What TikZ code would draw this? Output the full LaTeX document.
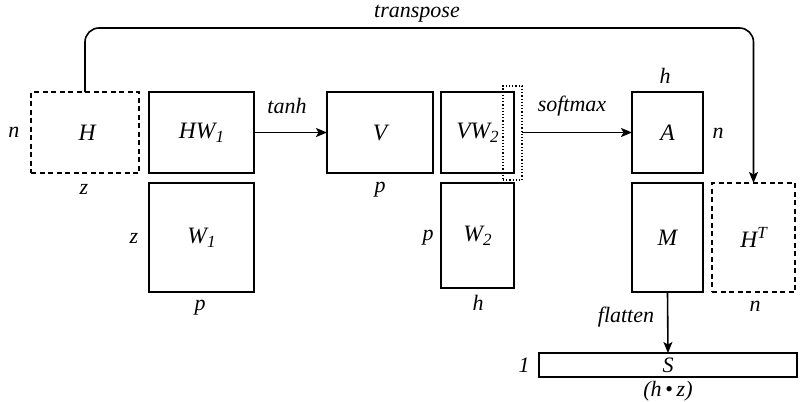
\documentclass[tikz,border=0pt]{standalone}
\usepackage{fontspec}
\setmainfont{Liberation Serif}
\usetikzlibrary{arrows.meta}
\newcommand{\mysub}[1]{\raisebox{-0.35ex}{\fontsize{17}{17}\selectfont #1}}
\newcommand{\mysup}[1]{\raisebox{0.9ex}{\fontsize{17}{17}\selectfont #1}}
\begin{document}
\begin{tikzpicture}[x=1pt,y=-1pt,
  mat/.style={draw,line width=1.6pt,inner sep=0pt,outer sep=0pt,font=\fontsize{23.5}{27}\selectfont\itshape},
  dmat/.style={mat,dash pattern=on 5pt off 3.5pt},
  lbl/.style={inner sep=0pt,font=\fontsize{22}{26}\selectfont\itshape},
  arr/.style={line width=1.6pt,-{Stealth[length=11pt,width=9pt,inset=2.5pt]}}]
\useasboundingbox (0,0) rectangle (807,402);
% matrices
\node[dmat,minimum width=108pt,minimum height=81pt] (H) at (85,132.5) {$\,$H};
\node[mat,minimum width=105pt,minimum height=81pt] (HW) at (201.5,132.5) {HW\mysub{1}};
\node[mat,minimum width=105pt,minimum height=109pt] (W1) at (201.5,237.5) {W\mysub{1}};
\node[mat,minimum width=106pt,minimum height=81pt] (V) at (380,132.5) {V};
\node[mat,minimum width=73pt,minimum height=81pt] (VW) at (477.5,132.5) {VW\mysub{2}\hspace{6pt}};
\node[draw,dotted,line width=1.2pt,inner sep=0pt,outer sep=0pt,minimum width=19pt,minimum height=94pt] (col) at (512.5,133) {};
\node[mat,minimum width=73pt,minimum height=105pt] (W2) at (477.5,235.5) {W\mysub{2}};
\node[mat,minimum width=71pt,minimum height=81pt] (A) at (667.5,132.5) {A};
\node[mat,minimum width=71pt,minimum height=109pt] (M) at (667.5,237.5) {M};
\node[dmat,minimum width=83pt,minimum height=109pt] (HT) at (753.5,237.5) {H\mysup{T}};
\node[mat,minimum width=258pt,minimum height=24pt,font=\fontsize{22}{24}\selectfont\itshape] (S) at (668,365) {S};
% dimension labels
\node[lbl] (ln1) at (14,132) {n};
\node[lbl] (lz1) at (84,189) {z};
\node[lbl] (lz2) at (134,238) {z};
\node[lbl] (lp1) at (200,308) {p};
\node[lbl] (lp2) at (380,190) {p};
\node[lbl] (lp3) at (428,238) {p};
\node[lbl] (lh1) at (478,303) {h};
\node[lbl] (lh2) at (665,76) {h};
\node[lbl] (ln2) at (718,133) {n};
\node[lbl] (ln3) at (755,306) {n};
\node[lbl] (l1) at (524,365) {1};
\node[lbl] (lhz) at (668,391) {(h\,{\upshape\textbullet}\,z)};
% operation labels
\node[lbl] (tanh) at (287,106) {tanh};
\node[lbl] (soft) at (572,106) {softmax};
\node[lbl] (flat) at (626,317) {flatten};
\node[lbl] (trans) at (417,14) {transpose};
% connectors
\draw[arr] (HW.east) -- (V.west);
\draw[arr] (col.east |- VW.east) -- (A.west);
\draw[arr] (M.south) -- (S.north);
\draw[arr,rounded corners=14pt] (H.north) -- (H.north |- 0,28) -- (HT.north |- 0,28) -- (HT.north);
\end{tikzpicture}
\end{document}
